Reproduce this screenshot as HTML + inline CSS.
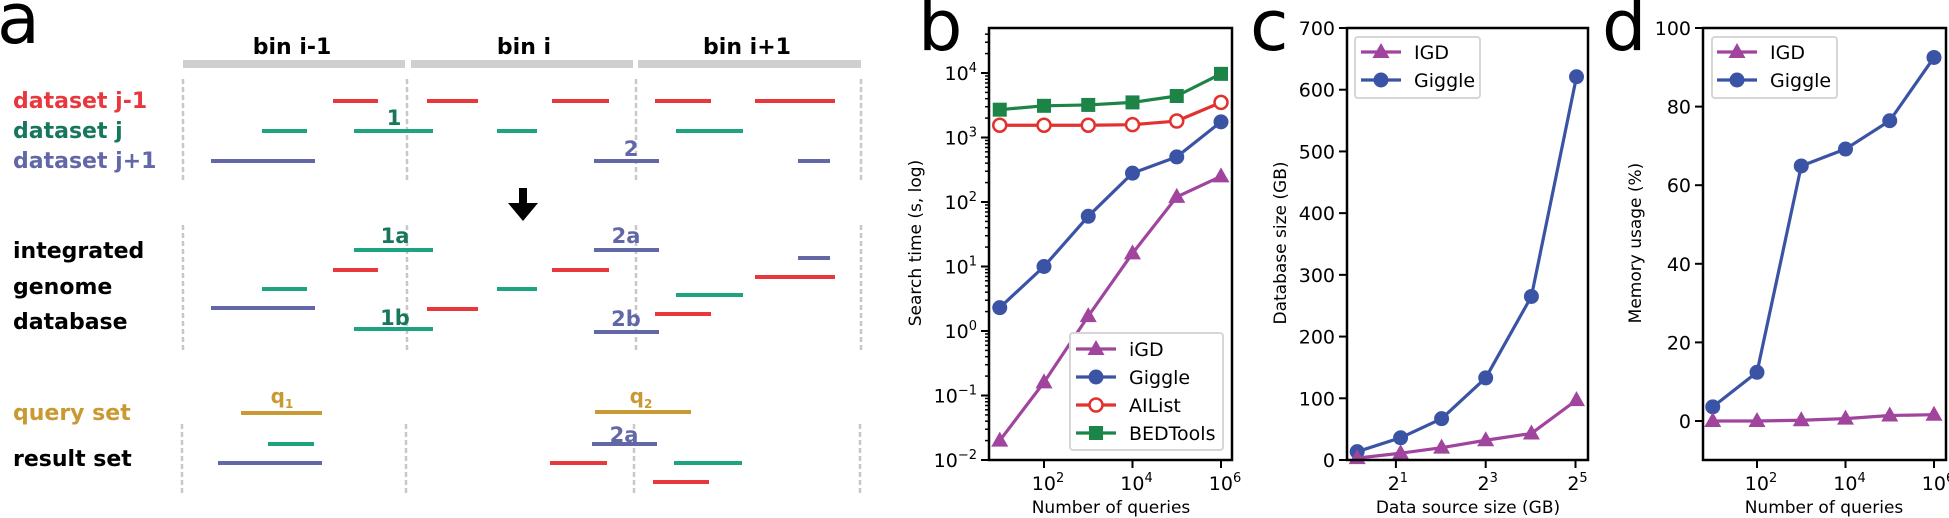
<!DOCTYPE html>
<html><head><meta charset="utf-8"><style>
html,body{margin:0;padding:0;background:#fff;}
svg{display:block;font-family:"DejaVu Sans","Liberation Sans",sans-serif;}
</style></head><body>
<svg id="fig" width="1949" height="518" viewBox="0 0 1949 518" xmlns="http://www.w3.org/2000/svg">
<g id="panelA"></g>
<g id="panelB"></g>
<g id="panelC"></g>
<g id="panelD"></g>
</svg>
<script>
// ---------- Data ----------
const bQueries = [10, 100, 1000, 10000, 100000, 1000000];
const bIGD = [0.02, 0.16, 1.7, 16, 120, 250];
const bGiggle = [2.3, 10, 60, 280, 500, 1750];
const bAIList = [1550, 1550, 1550, 1580, 1800, 3500];
const bBEDTools = [2700, 3100, 3200, 3500, 4400, 9700];
const bYTickExp = [-2, -1, 0, 1, 2, 3, 4];
const bXTickExp = [2, 4, 6];

const cSizes = [1.1, 2.15, 4.05, 8, 16.2, 32.5];
const cIGD = [3, 11, 20, 32, 43, 97];
const cGiggle = [13.5, 36, 67, 133, 265, 621];
const cYTicks = [0, 100, 200, 300, 400, 500, 600, 700];
const cXTickExp = [1, 3, 5];

const dQueries = [10, 100, 1000, 10000, 100000, 1000000];
const dIGD = [0, 0, 0.2, 0.6, 1.4, 1.6];
const dGiggle = [3.6, 12.4, 64.9, 69.2, 76.4, 92.5];
const dYTicks = [0, 20, 40, 60, 80, 100];
const dXTickExp = [2, 4, 6];

const NS = "http://www.w3.org/2000/svg";
function mk(parent, tag, attrs, text) {
  const e = document.createElementNS(NS, tag);
  for (const k in attrs) e.setAttribute(k, attrs[k]);
  if (text !== undefined) e.textContent = text;
  parent.appendChild(e);
  return e;
}
const COL = {igd: "#a0449e", giggle: "#3b53a4", ailist: "#e2322f", bed: "#1c8447"};

function marker(g, type, x, y, color) {
  let m;
  if (type === "tri") {
    m = mk(g, "polygon", {points: `${x},${y-9} ${x-8.5},${y+6} ${x+8.5},${y+6}`, fill: color});
  } else if (type === "circ") {
    m = mk(g, "circle", {cx: x, cy: y, r: 7.5, fill: color});
  } else if (type === "open") {
    m = mk(g, "circle", {cx: x, cy: y, r: 6.5, fill: "#fff", stroke: color, "stroke-width": 2.5});
  } else {
    m = mk(g, "rect", {x: x-7, y: y-7, width: 14, height: 14, fill: color});
  }
  
  
}
function series(g, xs, ys, sx, sy, color, type, name) {
  const sg = mk(g, "g", {});
  
  
  const pts = xs.map((x, i) => sx(x) + "," + sy(ys[i])).join(" ");
  mk(sg, "polyline", {points: pts, fill: "none", stroke: color, "stroke-width": 3.2, "stroke-linejoin": "round"});
  xs.forEach((x, i) => marker(sg, type, sx(x), sy(ys[i]), color));
}
function powLabel(g, x, y, base, exp, anchor, name) {
  const t = mk(g, "text", {x: x, y: y, "font-size": 19, "text-anchor": anchor, fill: "#000"});
  
  
  mk(t, "tspan", {}, String(base));
  mk(t, "tspan", {dy: -8, "font-size": 13}, exp < 0 ? "\u2212" + Math.abs(exp) : String(exp));
  return t;
}
function legend(g, x, y, w, h, entries, lx, tx) {
  const lg = mk(g, "g", {});
  
  
  mk(lg, "rect", {x: x, y: y, width: w, height: h, rx: 3, fill: "#fff", stroke: "#d6d6d6", "stroke-width": 2});
  entries.forEach(e => {
    const eg = mk(lg, "g", {});
    
    
    mk(eg, "line", {x1: lx, x2: lx + 40, y1: e.y, y2: e.y, stroke: e.color, "stroke-width": 3.2});
    marker(eg, e.type, lx + 20, e.y, e.color);
    mk(eg, "text", {x: tx, y: e.y + 7, "font-size": 19, fill: "#000"}, e.label);
  });
}
function frame(g, x0, y0, x1, y1) {
  const f = mk(g, "rect", {x: x0, y: y0, width: x1 - x0, height: y1 - y0, fill: "none", stroke: "#000", "stroke-width": 2.5});
  
  
}
function bigLetter(g, x, y, s, name) {
  const t = mk(g, "text", {x: x, y: y, "font-size": 70, fill: "#000"}, s);
  
  
}
function axisTitle(g, x, y, s, rot, name) {
  const t = mk(g, "text", {x: x, y: y, "font-size": 17, "text-anchor": "middle", fill: "#000",
    transform: rot ? `rotate(-90 ${x} ${y})` : ""}, s);
  
  
}

// ---------- Panel B ----------
(function(){
  const g = document.getElementById("panelB");
  const X0 = 989, X1 = 1232, Y0 = 28, Y1 = 460;
  const sx = v => 1044 + (Math.log10(v) - 2) * 44.25;
  const sy = v => 460 - (Math.log10(v) + 2) * 64.5;
  bigLetter(g, 918, 50, "b", "panel-b-label");
  // minor ticks y
  for (let e = -2; e <= 4; e++) {
    for (let k = 2; k <= 9; k++) {
      const y = sy(k * Math.pow(10, e));
      if (y < Y0) continue;
      mk(g, "line", {x1: X0 - 4, x2: X0, y1: y, y2: y, stroke: "#000", "stroke-width": 1.5});
    }
  }
  bYTickExp.forEach(e => {
    const y = sy(Math.pow(10, e));
    mk(g, "line", {x1: X0 - 8, x2: X0, y1: y, y2: y, stroke: "#000", "stroke-width": 2});
    powLabel(g, X0 - 12 - (e < 0 ? 0 : 0), y + 7, 10, e, "end", "y-tick-label");
  });
  bXTickExp.forEach(e => {
    const x = sx(Math.pow(10, e));
    mk(g, "line", {x1: x, x2: x, y1: Y1, y2: Y1 + 8, stroke: "#000", "stroke-width": 2});
    powLabel(g, x + 4, Y1 + 30, 10, e, "middle", "x-tick-label");
  });
  series(g, bQueries, bBEDTools, sx, sy, COL.bed, "sq", "series-bedtools");
  series(g, bQueries, bAIList, sx, sy, COL.ailist, "open", "series-ailist");
  series(g, bQueries, bGiggle, sx, sy, COL.giggle, "circ", "series-giggle");
  series(g, bQueries, bIGD, sx, sy, COL.igd, "tri", "series-igd");
  frame(g, X0, Y0, X1, Y1);
  legend(g, 1070, 333, 153, 117, [
    {y: 349, color: COL.igd, type: "tri", label: "iGD"},
    {y: 377, color: COL.giggle, type: "circ", label: "Giggle"},
    {y: 405, color: COL.ailist, type: "open", label: "AIList"},
    {y: 433, color: COL.bed, type: "sq", label: "BEDTools"}], 1076, 1129);
  axisTitle(g, 1111, 513, "Number of queries", false, "x-axis-title");
  axisTitle(g, 921, 243, "Search time (s, log)", true, "y-axis-title");
})();

// ---------- Panel C ----------
(function(){
  const g = document.getElementById("panelC");
  const X0 = 1347, X1 = 1588, Y0 = 28, Y1 = 460;
  const sx = v => 1351 + Math.log2(v) * 44.9;
  const sy = v => 460 - v * (432 / 700);
  bigLetter(g, 1250, 50, "c", "panel-c-label");
  cYTicks.forEach(v => {
    const y = sy(v);
    mk(g, "line", {x1: X0 - 8, x2: X0, y1: y, y2: y, stroke: "#000", "stroke-width": 2});
    const t = mk(g, "text", {x: X0 - 12, y: y + 7, "font-size": 19, "text-anchor": "end"}, String(v));
    
    
  });
  cXTickExp.forEach(e => {
    const x = sx(Math.pow(2, e));
    mk(g, "line", {x1: x, x2: x, y1: Y1, y2: Y1 + 8, stroke: "#000", "stroke-width": 2});
    powLabel(g, x + 2, Y1 + 30, 2, e, "middle", "x-tick-label");
  });
  series(g, cSizes, cGiggle, sx, sy, COL.giggle, "circ", "series-giggle");
  series(g, cSizes, cIGD, sx, sy, COL.igd, "tri", "series-igd");
  frame(g, X0, Y0, X1, Y1);
  legend(g, 1355, 37, 125, 61, [
    {y: 52, color: COL.igd, type: "tri", label: "IGD"},
    {y: 80, color: COL.giggle, type: "circ", label: "Giggle"}], 1361, 1414);
  axisTitle(g, 1468, 513, "Data source size (GB)", false, "x-axis-title");
  axisTitle(g, 1286, 243, "Database size (GB)", true, "y-axis-title");
})();

// ---------- Panel D ----------
(function(){
  const g = document.getElementById("panelD");
  const X0 = 1703, X1 = 1946, Y0 = 28, Y1 = 460;
  const sx = v => 1757 + (Math.log10(v) - 2) * 44.25;
  const sy = v => 421 - v * 3.93;
  bigLetter(g, 1602, 50, "d", "panel-d-label");
  dYTicks.forEach(v => {
    const y = sy(v);
    mk(g, "line", {x1: X0 - 8, x2: X0, y1: y, y2: y, stroke: "#000", "stroke-width": 2});
    const t = mk(g, "text", {x: X0 - 12, y: y + 7, "font-size": 19, "text-anchor": "end"}, String(v));
    
    
  });
  dXTickExp.forEach(e => {
    const x = sx(Math.pow(10, e));
    mk(g, "line", {x1: x, x2: x, y1: Y1, y2: Y1 + 8, stroke: "#000", "stroke-width": 2});
    powLabel(g, x + 4, Y1 + 30, 10, e, "middle", "x-tick-label");
  });
  series(g, dQueries, dGiggle, sx, sy, COL.giggle, "circ", "series-giggle");
  series(g, dQueries, dIGD, sx, sy, COL.igd, "tri", "series-igd");
  frame(g, X0, Y0, X1, Y1);
  legend(g, 1712, 37, 125, 61, [
    {y: 52, color: COL.igd, type: "tri", label: "IGD"},
    {y: 80, color: COL.giggle, type: "circ", label: "Giggle"}], 1717, 1770);
  axisTitle(g, 1824, 513, "Number of queries", false, "x-axis-title");
  axisTitle(g, 1641, 243, "Memory usage (%)", true, "y-axis-title");
})();

// ---------- Panel A (schematic) ----------
const aRed = "#e8383d", aGreen = "#1da37f", aGreenText = "#16775c", aPurple = "#6267a8", aGold = "#c99a33";
const aSegments = [
  // top
  [101,333,378,"r"],[101,427,478,"r"],[101,552,609,"r"],[101,655,711,"r"],[101,755,835,"r"],
  [131,262,307,"g"],[131,354,433,"g"],[131,497,537,"g"],[131,676,743,"g"],
  [161,211,315,"p"],[161,594,659,"p"],[161,798,830,"p"],
  // middle
  [250,354,433,"g"],[270,333,378,"r"],[289,262,307,"g"],[308,211,315,"p"],[329,354,433,"g"],
  [309,427,478,"r"],[289,497,537,"g"],[270,552,609,"r"],[250,594,659,"p"],[332,594,659,"p"],
  [295,676,743,"g"],[314,655,711,"r"],[277,755,835,"r"],[258,798,830,"p"],
  // bottom
  [413,241,322,"y"],[444,268,314,"g"],[463,218,322,"p"],
  [412,595,691,"y"],[444,592,657,"p"],[463,550,607,"r"],[463,674,742,"g"],[482,653,709,"r"]
];
(function(){
  const g = document.getElementById("panelA");
  const cmap = {r: aRed, g: aGreen, p: aPurple, y: aGold};
  bigLetter(g, -3, 43, "a", "panel-a-label");
  [[183,405,292,"bin i-1"],[411,633,524,"bin i"],[638,861,747,"bin i+1"]].forEach(b => {
    const r = mk(g, "rect", {x: b[0], y: 60, width: b[1]-b[0], height: 8, fill: "#cfcfcf"});
    
    
    const t = mk(g, "text", {x: b[2], y: 54, "font-size": 22, "font-weight": "bold", "text-anchor": "middle"}, b[3]);
    
    
  });
  const dash = {stroke: "#c8c8c8", "stroke-width": 2.5, "stroke-dasharray": "5,3"};
  [[79,181,[183,407,636,861]],[225,351,[183,407,636,861]],[424,495,[182,406,634,860]]].forEach(s => {
    s[2].forEach(x => {
      const l = mk(g, "line", Object.assign({x1: x, x2: x, y1: s[0], y2: s[1]}, dash));
      
      
    });
  });
  aSegments.forEach(s => {
    const l = mk(g, "line", {x1: s[1], x2: s[2], y1: s[0], y2: s[0], stroke: cmap[s[3]], "stroke-width": 4});
    
    
  });
  const rows = [[13,108,"dataset j-1",aRed],[13,138,"dataset j",aGreenText],[13,168,"dataset j+1",aPurple],
    [13,258,"integrated","#000"],[13,294,"genome","#000"],[13,329,"database","#000"],
    [13,420,"query set",aGold],[13,466,"result set","#000"]];
  rows.forEach(r => {
    const t = mk(g, "text", {x: r[0], y: r[1], "font-size": 22, "font-weight": "bold", fill: r[3]}, r[2]);
    
    
  });
  const tags = [[394,125,"1",aGreenText],[631,156,"2",aPurple],[395,243,"1a",aGreenText],[395,325,"1b",aGreenText],
    [626,243,"2a",aPurple],[626,326,"2b",aPurple],[624,442,"2a",aPurple]];
  tags.forEach(r => {
    const t = mk(g, "text", {x: r[0], y: r[1], "font-size": 21, "font-weight": "bold", "text-anchor": "middle", fill: r[3]}, r[2]);
    
    
  });
  [[282,403,"1"],[641,403,"2"]].forEach(q => {
    const t = mk(g, "text", {x: q[0], y: q[1], "font-size": 20, "font-weight": "bold", "text-anchor": "middle", fill: aGold});
    
    
    mk(t, "tspan", {}, "q");
    mk(t, "tspan", {dy: 5, "font-size": 12}, q[2]);
  });
  const ar = mk(g, "polygon", {points: "519,188 527,188 527,203 538,203 523,221 508,203 519,203", fill: "#000"});
  
  
})();
</script>
</body></html>
